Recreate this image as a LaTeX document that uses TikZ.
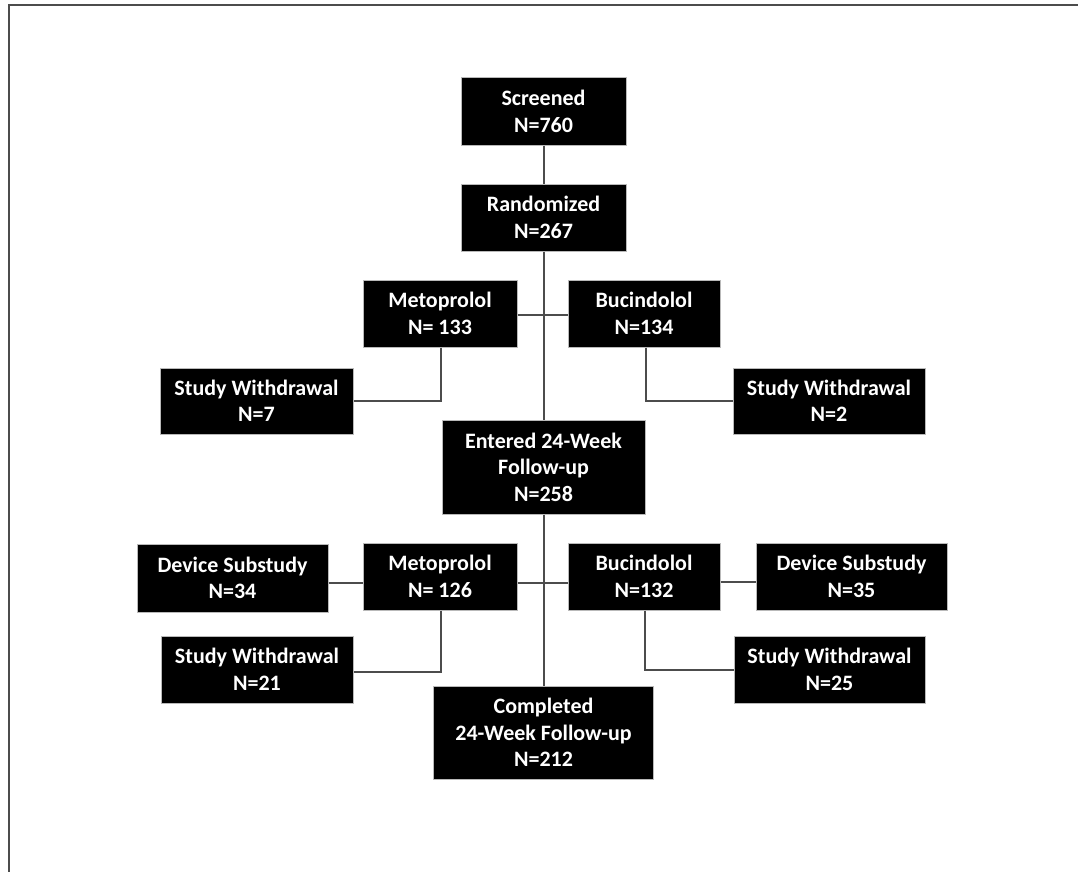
\documentclass[tikz,border=0pt]{standalone}
\usepackage{fontspec}
\setmainfont{Carlito}
\begin{document}
\begin{tikzpicture}[x=1pt,y=-1pt,
  box/.style={fill=black,draw=gray!55,line width=1pt,text=white,align=center,
    font=\fontsize{22}{26.5}\selectfont\bfseries,inner sep=0pt,anchor=center},
  link/.style={draw=black!70,line width=2pt}]
\useasboundingbox (0,0) rectangle (1078,872);
\draw[black!70,line width=2.5pt] (9,873) -- (9,5) -- (1079,5);

\node[box,minimum width=165pt,minimum height=67pt] (scr) at (543.5,111.5) {Screened\\N=760};
\node[box,minimum width=165pt,minimum height=67pt] (rand) at (543.5,217.5) {Randomized\\N=267};
\node[box,minimum width=154pt,minimum height=67pt] (met1) at (440,313.5) {Metoprolol\\N= 133};
\node[box,minimum width=152pt,minimum height=67pt] (buc1) at (644,313.5) {Bucindolol\\N=134};
\node[box,minimum width=193pt,minimum height=66pt] (sw7) at (256.5,401) {Study Withdrawal\\N=7};
\node[box,minimum width=192pt,minimum height=66pt] (sw2) at (829,401) {Study Withdrawal\\N=2};
\node[box,minimum width=203pt,minimum height=94pt] (ent) at (543.5,467) {Entered 24-Week\\Follow-up\\N=258};
\node[box,minimum width=154pt,minimum height=67pt] (met2) at (440,576.5) {Metoprolol\\N= 126};
\node[box,minimum width=152pt,minimum height=67pt] (buc2) at (644,576.5) {Bucindolol\\N=132};
\node[box,minimum width=191pt,minimum height=68pt] (dev34) at (232.5,578) {Device Substudy\\N=34};
\node[box,minimum width=191pt,minimum height=67pt] (dev35) at (851.5,576.5) {Device Substudy\\N=35};
\node[box,minimum width=192pt,minimum height=67pt] (sw21) at (257,669.5) {Study Withdrawal\\N=21};
\node[box,minimum width=191pt,minimum height=67pt] (sw25) at (829.5,669.5) {Study Withdrawal\\N=25};
\node[box,minimum width=220pt,minimum height=93pt] (comp) at (543.5,732.5) {Completed\\24-Week Follow-up\\N=212};

\draw[link] (scr.south) -- (rand.north);
\draw[link] (rand.south) -- (ent.north);
\draw[link] ([yshift=-1.5pt]met1.east) -- ([yshift=-1.5pt]buc1.west);
\draw[link] ([xshift=1pt]met1.south) |- (sw7.east);
\draw[link] ([xshift=2pt]buc1.south) |- (sw2.west);
\draw[link] (ent.south) -- (comp.north);
\draw[link] ([yshift=-6pt]met2.east) -- ([yshift=-6pt]buc2.west);
\draw[link] ([yshift=-5pt]dev34.east) -- ([yshift=-6.5pt]met2.west);
\draw[link] ([yshift=-5.5pt]buc2.east) -- ([yshift=-5.5pt]dev35.west);
\draw[link] ([xshift=1pt]met2.south) |- ([yshift=-2.5pt]sw21.east);
\draw[link] ([xshift=1pt]buc2.south) |- ([yshift=-0.5pt]sw25.west);
\end{tikzpicture}
\end{document}
